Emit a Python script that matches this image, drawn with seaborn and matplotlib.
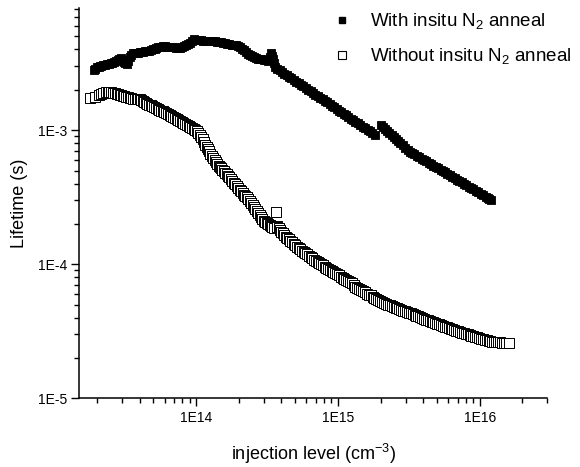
import numpy as np
import matplotlib
matplotlib.use('Agg')
import matplotlib.pyplot as plt
import matplotlib.ticker as mticker
from matplotlib.lines import Line2D
import seaborn as sns

### DATA  (x in units of 1e13 cm^-3, y in units of 1e-3 s)

# with insitu N2 anneal : rising part, first decay, second decay (after the jump)
with_rise_x = [1.9, 1.95, 2.0, 2.05, 2.1, 2.15, 2.2, 2.27, 2.35, 2.42,
               2.5, 2.57, 2.65, 2.72, 2.8, 2.87, 2.95, 3.02, 3.1, 3.17,
               3.25, 3.32, 3.4, 3.5, 3.6, 3.7, 3.8, 3.9, 4.0, 4.12,
               4.25, 4.37, 4.5, 4.65, 4.8, 4.95, 5.1, 5.25, 5.4, 5.6,
               5.8, 6.0, 6.2, 6.4, 6.6, 6.8, 7.0, 7.25, 7.5, 7.75,
               8.0, 8.25, 8.5, 8.8, 9.1, 9.4, 9.7, 10.05, 10.4, 10.75,
               11.1, 11.5, 11.9, 12.3, 12.7, 13.15, 13.6, 14.05, 14.5, 15.0,
               15.5, 16.05, 16.6, 17.2, 17.8, 18.4, 19.0, 19.65, 20.3, 21.0,
               21.7, 22.45, 23.2, 24.0, 24.8, 25.65, 26.5, 27.4, 28.3, 29.3,
               30.3, 31.35, 32.4, 33.2, 34.0, 34.5, 35.0, 35.5, 36.0]
with_rise_y = [2.8, 2.88, 2.95, 2.98, 3.0, 3.02, 3.05, 3.08, 3.1, 3.12,
               3.15, 3.17, 3.2, 3.28, 3.35, 3.4, 3.45, 3.35, 3.25, 3.17,
               3.1, 3.3, 3.5, 3.65, 3.75, 3.75, 3.75, 3.77, 3.8, 3.82,
               3.85, 3.87, 3.9, 3.92, 3.95, 4.0, 4.05, 4.1, 4.15, 4.2,
               4.25, 4.22, 4.2, 4.2, 4.2, 4.17, 4.15, 4.12, 4.1, 4.12,
               4.15, 4.22, 4.3, 4.4, 4.5, 4.62, 4.75, 4.72, 4.7, 4.67,
               4.65, 4.62, 4.6, 4.61, 4.62, 4.61, 4.6, 4.57, 4.55, 4.52,
               4.5, 4.45, 4.4, 4.37, 4.35, 4.32, 4.3, 4.22, 4.15, 4.05,
               3.95, 3.82, 3.7, 3.62, 3.55, 3.5, 3.45, 3.42, 3.4, 3.37,
               3.35, 3.32, 3.3, 3.5, 3.75, 3.55, 3.4, 3.15, 2.95]
with_fall1_x = [37.5, 39, 40.5, 42, 43.5, 45, 47, 49, 51, 53,
                55, 57, 59.5, 62, 64.5, 67, 69.5, 72, 75, 78,
                81, 84, 87.5, 91, 94.5, 98, 102, 106, 110, 114,
                118.5, 123, 128, 133, 138.5, 144, 150, 156, 162, 168,
                175, 183]
with_fall1_y = [2.87, 2.79, 2.71, 2.64, 2.57, 2.51, 2.44, 2.37, 2.30, 2.24,
                2.18, 2.12, 2.06, 2.00, 1.945, 1.89, 1.845, 1.80, 1.75, 1.70,
                1.655, 1.61, 1.565, 1.52, 1.48, 1.44, 1.40, 1.36, 1.325, 1.29,
                1.255, 1.22, 1.19, 1.16, 1.125, 1.09, 1.06, 1.03, 1.005, 0.98,
                0.95, 0.92]
with_fall2_x = [200, 207, 215, 222, 230, 239, 248, 257, 266, 276,
                286, 298, 310, 322, 335, 347, 360, 375, 390, 405,
                420, 437, 455, 472, 490, 510, 530, 550, 570, 592,
                615, 640, 665, 692, 720, 747, 775, 807, 840, 872,
                905, 942, 980, 1020, 1060, 1100, 1140, 1170, 1200]
with_fall2_y = [1.09, 1.055, 1.02, 0.985, 0.95, 0.92, 0.89, 0.86, 0.83, 0.80,
                0.77, 0.74, 0.71, 0.693, 0.676, 0.661, 0.646, 0.63, 0.614, 0.60,
                0.586, 0.572, 0.558, 0.545, 0.532, 0.519, 0.506, 0.495, 0.484, 0.472,
                0.461, 0.45, 0.439, 0.428, 0.418, 0.408, 0.399, 0.389, 0.379, 0.37,
                0.362, 0.353, 0.344, 0.335, 0.327, 0.32, 0.313, 0.307, 0.302]

# without insitu N2 anneal
without_x = [1.78, 1.95, 2.05, 2.15, 2.22, 2.3, 2.38, 2.45, 2.52, 2.6,
             2.68, 2.75, 2.82, 2.9, 2.97, 3.05, 3.12, 3.2, 3.3, 3.4,
             3.5, 3.6, 3.7, 3.8, 3.9, 4.0, 4.1, 4.2, 4.3, 4.4,
             4.52, 4.65, 4.77, 4.9, 5.05, 5.2, 5.35, 5.5, 5.65, 5.8,
             5.95, 6.1, 6.3, 6.5, 6.7, 6.9, 7.1, 7.3, 7.5, 7.7,
             7.9, 8.1, 8.35, 8.6, 8.85, 9.1, 9.35, 9.6, 9.85, 10.1,
             10.35, 10.6, 10.85, 11.1, 11.35, 11.6, 11.85, 12.1, 12.35, 12.6,
             12.9, 13.2, 13.5, 13.8, 14.1, 14.4, 14.7, 15.0, 15.35, 15.7,
             16.05, 16.4, 16.8, 17.2, 17.6, 18.0, 18.45, 18.9, 19.35, 19.8,
             20.3, 20.8, 21.3, 21.8, 22.3, 22.8, 23.35, 23.9, 24.45, 25.0,
             25.6, 26.2, 26.8, 27.4, 28.05, 28.7, 29.35, 30.0, 30.75, 31.5,
             32.25, 33.0, 33.75, 34.5, 35.5, 36.5, 37.0, 37.5, 38.2, 39,
             40, 41, 42, 43, 44, 45, 46.2, 47.5, 48.7, 50,
             51.5, 53, 54.5, 56, 57.5, 59, 60.7, 62.5, 64.2, 66,
             68, 70, 72, 74, 76, 78, 80.5, 83, 85.5, 88,
             90.5, 93, 96, 99, 102, 105, 108, 111, 114.5, 118,
             121.5, 125, 129, 133, 137, 141, 145.5, 150, 155, 160,
             165, 170, 175.5, 181, 187, 193, 199, 205, 211.5, 218,
             225, 232, 239.5, 247, 255, 263, 271.5, 280, 289, 298,
             307.5, 317, 327, 337, 347.5, 358, 369.5, 381, 393, 405,
             418, 431, 444.5, 458, 472.5, 487, 502.5, 518, 534.5, 551,
             568.5, 586, 604.5, 623, 643, 663, 684, 705, 727.5, 750,
             774, 798, 823.5, 849, 876, 903, 931.5, 960, 990, 1020,
             1052.5, 1085, 1120, 1155, 1192.5, 1230, 1270, 1310, 1355, 1400,
             1445, 1490, 1545, 1600]
without_y = [1.73, 1.78, 1.83, 1.87, 1.90, 1.92, 1.93, 1.93, 1.92, 1.91,
             1.89, 1.87, 1.85, 1.83, 1.815, 1.80, 1.79, 1.78, 1.765, 1.75,
             1.735, 1.72, 1.71, 1.70, 1.70, 1.70, 1.68, 1.66, 1.63, 1.60,
             1.575, 1.55, 1.53, 1.51, 1.485, 1.46, 1.44, 1.42, 1.40, 1.38,
             1.36, 1.34, 1.32, 1.30, 1.28, 1.26, 1.24, 1.22, 1.20, 1.18,
             1.16, 1.14, 1.12, 1.10, 1.08, 1.06, 1.04, 1.02, 1.00, 0.98,
             0.95, 0.92, 0.89, 0.86, 0.82, 0.78, 0.75, 0.72, 0.695, 0.67,
             0.645, 0.62, 0.60, 0.58, 0.562, 0.545, 0.532, 0.52, 0.507, 0.495,
             0.482, 0.47, 0.457, 0.445, 0.432, 0.42, 0.407, 0.395, 0.382, 0.37,
             0.36, 0.35, 0.34, 0.33, 0.322, 0.315, 0.305, 0.295, 0.285, 0.275,
             0.267, 0.26, 0.25, 0.24, 0.232, 0.225, 0.218, 0.212, 0.207, 0.203,
             0.199, 0.196, 0.193, 0.19, 0.188, 0.245, 0.193, 0.19, 0.185, 0.18,
             0.175, 0.170, 0.165, 0.161, 0.157, 0.154, 0.15, 0.146, 0.142, 0.139,
             0.135, 0.132, 0.129, 0.126, 0.1235, 0.121, 0.1185, 0.116, 0.1135, 0.111,
             0.1085, 0.106, 0.104, 0.102, 0.100, 0.098, 0.096, 0.094, 0.092, 0.090,
             0.0885, 0.087, 0.0855, 0.084, 0.0825, 0.081, 0.0795, 0.078, 0.0767, 0.0755,
             0.0742, 0.073, 0.0705, 0.068, 0.0667, 0.0655, 0.0642, 0.063, 0.0617, 0.0605,
             0.0595, 0.0585, 0.0575, 0.0565, 0.0555, 0.0545, 0.0533, 0.0522, 0.0514, 0.0507,
             0.05, 0.0494, 0.0487, 0.0481, 0.0475, 0.0469, 0.0463, 0.0457, 0.0451, 0.0446,
             0.044, 0.0435, 0.043, 0.0424, 0.0418, 0.0413, 0.0408, 0.0403, 0.0397, 0.0392,
             0.0387, 0.0383, 0.0378, 0.0374, 0.037, 0.0365, 0.036, 0.0356, 0.0352, 0.0347,
             0.0343, 0.0339, 0.0335, 0.0331, 0.0327, 0.0323, 0.032, 0.0316, 0.0312, 0.0309,
             0.0306, 0.0303, 0.03, 0.0297, 0.0294, 0.0291, 0.0288, 0.0285, 0.0282, 0.0279,
             0.0276, 0.0274, 0.0271, 0.0269, 0.0267, 0.0265, 0.0264, 0.0263, 0.0262, 0.0261,
             0.026, 0.0259, 0.0258, 0.0257]

label_with = 'With insitu N$_2$ anneal'
label_without = 'Without insitu N$_2$ anneal'

sns.set_style('ticks')
plt.rcParams['font.family'] = ['Liberation Sans', 'DejaVu Sans']
plt.rcParams['mathtext.fontset'] = 'custom'
plt.rcParams['mathtext.rm'] = 'Liberation Sans'
plt.rcParams['mathtext.it'] = 'Liberation Sans'
plt.rcParams['mathtext.default'] = 'regular'
plt.rcParams['text.color'] = 'black'
plt.rcParams['axes.labelcolor'] = 'black'
plt.rcParams['xtick.color'] = 'black'
plt.rcParams['ytick.color'] = 'black'

fig = plt.figure(figsize=(5.8, 4.67), dpi=100)
ax = fig.add_axes([0.1367, 0.147, 0.8069, 0.835])

wx = np.array(with_rise_x + with_fall1_x + with_fall2_x) * 1e13
wy = np.array(with_rise_y + with_fall1_y + with_fall2_y) * 1e-3
ox = np.array(without_x) * 1e13
oy = np.array(without_y) * 1e-3

sns.scatterplot(x=ox, y=oy, ax=ax, marker='s', s=46, color='white',
                edgecolor='black', linewidth=0.7, zorder=2, legend=False)
sns.scatterplot(x=wx, y=wy, ax=ax, marker='s', s=27, color='black',
                edgecolor='black', linewidth=0.6, zorder=3, legend=False)

ax.set_xscale('log')
ax.set_yscale('log')
ax.set_xlim(1.5e13, 3.0e16)
ax.set_ylim(1e-5, 8.1e-3)

fmt = mticker.FuncFormatter(lambda v, p: '1E%d' % int(round(np.log10(v))))
ax.xaxis.set_major_locator(mticker.LogLocator(base=10, numticks=10))
ax.yaxis.set_major_locator(mticker.LogLocator(base=10, numticks=10))
ax.xaxis.set_minor_locator(mticker.LogLocator(base=10, subs=np.arange(2, 10), numticks=20))
ax.yaxis.set_minor_locator(mticker.LogLocator(base=10, subs=np.arange(2, 10), numticks=20))
ax.xaxis.set_major_formatter(fmt)
ax.yaxis.set_major_formatter(fmt)
ax.xaxis.set_minor_formatter(mticker.NullFormatter())
ax.yaxis.set_minor_formatter(mticker.NullFormatter())

ax.tick_params(which='major', direction='out', length=6, width=1.0, labelsize=10, pad=3)
ax.tick_params(which='minor', direction='out', length=3.5, width=1.0)
for s in ['left', 'bottom']:
    ax.spines[s].set_linewidth(1.1)
    ax.spines[s].set_color('black')
sns.despine(ax=ax)

ax.set_xlabel('injection level (cm$^{-3}$)', fontsize=13, labelpad=12)
ax.set_ylabel('Lifetime (s)', fontsize=13, labelpad=7)

handles = [Line2D([], [], ls='none', marker='s', ms=4.2, mfc='black', mec='black'),
           Line2D([], [], ls='none', marker='s', ms=5.2, mfc='white', mec='black', mew=0.8)]
ax.legend(handles, [label_with, label_without], loc='upper left',
          bbox_to_anchor=(0.506, 1.012), frameon=False, fontsize=13.5,
          handletextpad=0.5, labelspacing=0.8, borderaxespad=0)

fig.savefig('out.png', dpi=100)
